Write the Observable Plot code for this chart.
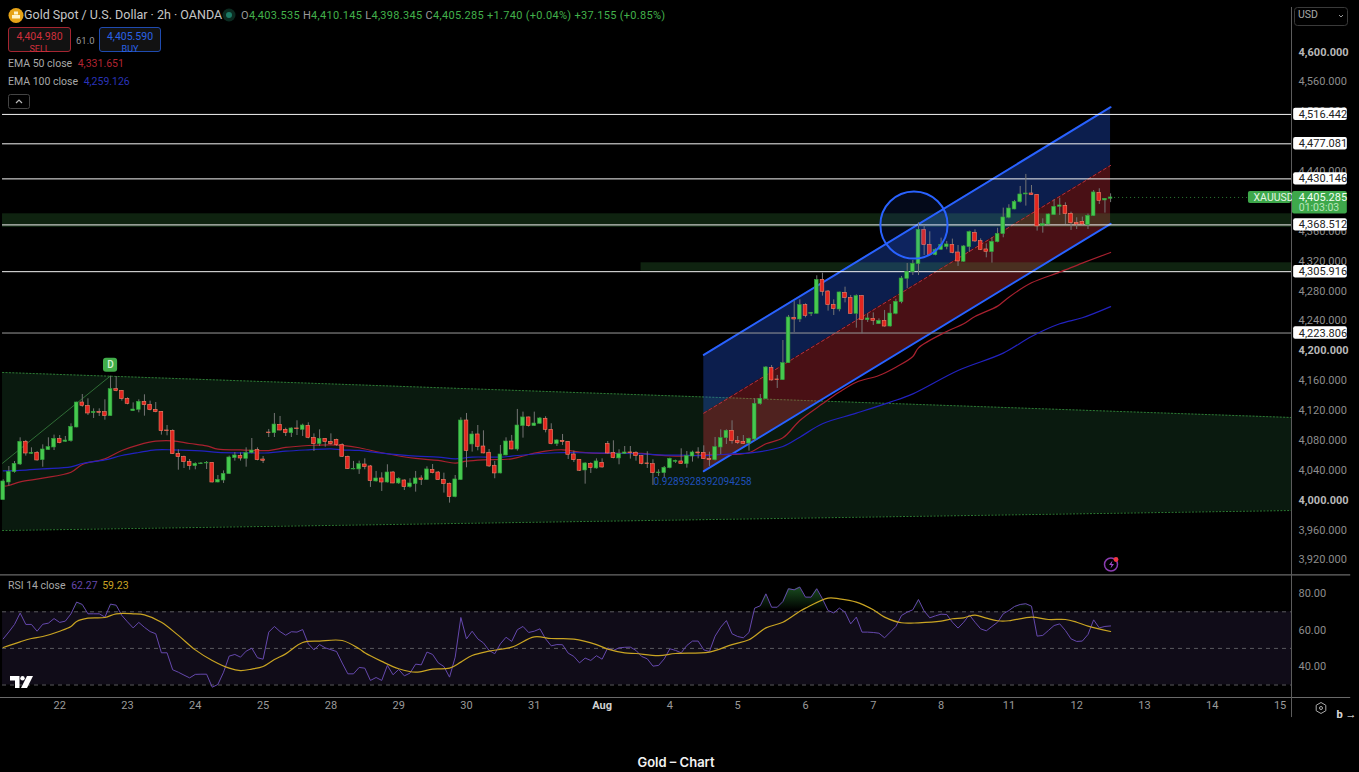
<!DOCTYPE html>
<html><head><meta charset="utf-8">
<script src="https://cdn.jsdelivr.net/npm/d3@7"></script>
<script src="https://cdn.jsdelivr.net/npm/@observablehq/plot@0.6"></script>
<style>
html,body{margin:0;padding:0;background:#000;overflow:hidden}
#wrap{position:relative;width:1359px;height:772px;background:#000;font-family:Roboto,sans-serif}
#wrap svg{display:block}
.o{position:absolute;white-space:pre;line-height:1}
#cap{position:absolute;left:0;top:754px;width:1352px;text-align:center;color:#f2f2f2;font:600 13px Inter,Roboto,sans-serif;line-height:16px}
.box{position:absolute;box-sizing:border-box;border-radius:3px;background:#121212;text-align:center}
</style></head><body>
<div id="wrap"></div>
<script>
const opens=[4000.1,4023.7,4037.6,4047.8,4078.2,4062.1,4063.4,4053.6,4067.0,4070.6,
4082.2,4078.2,4079.0,4097.3,4130.8,4126.3,4116.5,4118.3,4117.9,4112.5,
4148.6,4146.4,4135.7,4119.2,4121.0,4131.7,4127.7,4121.0,4118.3,4093.3,
4092.9,4062.1,4058.1,4051.4,4045.6,4048.2,4049.2,4050.0,4023.7,4026.4,
4034.9,4056.3,4059.4,4055.4,4063.0,4067.0,4054.5,4090.6,4089.7,4100.9,
4094.2,4089.7,4096.0,4094.2,4099.6,4083.5,4075.0,4082.2,4078.2,4080.8,
4073.7,4058.1,4041.2,4041.2,4047.8,4045.2,4025.1,4029.1,4023.7,4037.1,
4022.4,4026.4,4017.5,4021.5,4029.1,4026.9,4040.7,4037.1,4027.3,4022.0,
4004.1,4026.9,4106.7,4074.6,4088.0,4071.9,4063.5,4046.1,4035.8,4059.9,
4078.6,4067.9,4099.2,4110.8,4099.2,4102.3,4109.0,4094.2,4075.1,4079.5,
4078.2,4061.2,4054.1,4039.8,4048.7,4042.5,4050.1,4075.1,4063.0,4055.9,
4062.1,4063.9,4063.5,4059.0,4049.2,4048.3,4036.2,4036.2,4042.9,4051.4,
4051.9,4048.3,4058.5,4063.9,4063.4,4055.4,4053.6,4070.6,4083.1,4092.9,
4079.5,4078.2,4075.9,4081.3,4128.6,4135.3,4177.2,4161.6,4160.7,4183.5,
4244.2,4241.9,4261.1,4249.5,4249.5,4295.0,4279.4,4261.6,4255.3,4277.6,
4270.9,4249.5,4273.2,4241.0,4242.8,4235.7,4240.1,4232.5,4249.5,4265.1,
4296.4,4305.3,4316.0,4361.5,4341.9,4328.1,4335.2,4338.8,4341.9,4331.6,
4319.2,4338.8,4358.0,4346.8,4335.7,4332.1,4345.5,4356.2,4378.1,4389.2,
4399.0,4409.3,4410.6,4408.8,4366.9,4369.1,4381.6,4392.8,4394.1,4383.4,
4371.4,4372.7,4368.2,4380.3,4411.5,4401.3,4403.535];
const closes=[4025.1,4038.0,4048.7,4078.2,4062.5,4063.4,4053.2,4067.9,4071.0,4082.2,
4076.4,4079.9,4098.2,4130.8,4126.3,4116.1,4118.3,4117.0,4112.5,4148.6,
4146.0,4135.3,4129.0,4121.4,4131.7,4127.2,4120.5,4117.9,4092.4,4092.4,
4061.6,4057.6,4050.9,4045.6,4048.7,4049.2,4050.0,4023.7,4027.3,4035.3,
4057.2,4059.9,4055.8,4063.0,4066.5,4053.6,4052.7,4089.7,4101.3,4093.3,
4089.7,4096.0,4095.1,4100.0,4083.5,4075.0,4082.2,4077.7,4075.0,4073.7,
4058.1,4041.6,4042.0,4048.3,4044.3,4025.5,4029.1,4023.7,4037.1,4022.4,
4028.7,4017.5,4022.4,4029.1,4026.9,4041.2,4036.2,4026.9,4021.5,4004.1,
4027.8,4106.7,4065.7,4088.0,4071.5,4062.6,4045.2,4035.8,4061.2,4078.6,
4067.9,4100.0,4110.8,4099.2,4102.7,4109.4,4094.2,4075.1,4080.0,4077.7,
4060.8,4053.6,4039.4,4049.2,4042.9,4051.9,4043.8,4062.6,4056.3,4062.1,
4063.9,4063.0,4059.0,4048.7,4048.3,4036.2,4037.1,4043.4,4055.4,4052.8,
4048.7,4059.0,4063.9,4062.6,4055.0,4053.6,4071.0,4083.1,4092.9,4079.1,
4076.4,4075.5,4082.2,4129.0,4135.7,4177.7,4160.3,4160.7,4183.5,4244.6,
4241.9,4261.1,4246.8,4250.8,4295.0,4279.0,4261.1,4255.8,4278.1,4270.5,
4249.5,4273.2,4241.5,4243.3,4240.1,4240.1,4232.5,4249.9,4265.6,4296.8,
4305.8,4316.5,4362.0,4341.5,4328.1,4335.2,4341.9,4342.4,4331.2,4319.6,
4339.7,4358.9,4346.4,4335.2,4332.5,4345.9,4356.6,4378.5,4390.5,4399.5,
4409.3,4410.6,4408.4,4366.5,4369.6,4382.5,4392.8,4394.6,4383.0,4370.9,
4369.1,4369.1,4380.7,4412.0,4400.8,4403.5,4405.285];
const highs=[4027.3,4045.1,4051.8,4083.5,4080.0,4070.1,4065.2,4074.1,4083.5,4087.1,
4086.6,4085.3,4102.2,4131.2,4141.5,4135.7,4122.3,4122.3,4134.4,4165.6,
4165.6,4146.9,4137.0,4130.3,4134.4,4141.1,4132.6,4130.8,4118.7,4100.0,
4094.2,4067.4,4059.0,4054.5,4050.0,4050.5,4051.8,4050.5,4033.1,4039.3,
4059.0,4063.9,4063.4,4070.1,4082.6,4070.1,4058.5,4094.7,4116.1,4112.1,
4096.4,4096.9,4106.3,4101.8,4103.6,4088.8,4094.2,4082.6,4088.8,4081.7,
4075.5,4059.0,4051.9,4052.3,4055.4,4046.5,4038.5,4036.7,4047.4,4038.5,
4030.0,4027.3,4028.7,4038.5,4032.7,4044.7,4047.8,4038.5,4036.2,4022.9,
4033.1,4110.3,4116.1,4092.0,4100.0,4092.9,4067.9,4051.9,4073.3,4083.5,
4086.7,4121.5,4117.9,4111.2,4117.9,4110.8,4111.7,4102.3,4080.9,4088.0,
4078.6,4065.7,4054.5,4050.1,4050.1,4055.4,4055.4,4078.6,4079.5,4067.5,
4071.9,4071.9,4064.8,4059.4,4064.8,4054.1,4040.7,4045.2,4056.3,4053.6,
4068.8,4065.2,4065.7,4070.2,4072.8,4064.3,4084.0,4094.2,4094.2,4106.3,
4085.3,4086.6,4083.1,4135.7,4141.5,4179.0,4180.3,4167.0,4213.8,4247.3,
4266.0,4268.2,4262.9,4251.3,4300.4,4303.9,4280.7,4268.2,4278.5,4285.2,
4274.1,4274.9,4274.1,4249.5,4250.8,4242.8,4254.0,4262.0,4269.1,4299.5,
4316.9,4321.0,4371.4,4367.8,4359.3,4336.6,4350.8,4346.4,4349.5,4341.0,
4341.0,4360.2,4362.0,4349.9,4343.2,4351.3,4364.0,4391.0,4395.5,4401.3,
4420.0,4436.1,4421.3,4409.3,4376.7,4383.0,4402.1,4404.4,4398.1,4385.6,
4378.1,4379.0,4383.0,4414.6,4416.9,4403.9,4410.145];
const lows=[4000.1,4018.8,4036.2,4046.5,4059.0,4061.2,4052.3,4044.2,4066.5,4066.5,
4075.5,4077.3,4077.7,4096.9,4124.5,4113.4,4109.4,4112.1,4107.1,4112.5,
4145.1,4132.6,4127.7,4118.7,4117.0,4112.5,4119.6,4117.0,4087.1,4086.2,
4061.2,4040.2,4042.4,4040.2,4040.7,4047.8,4041.1,4023.2,4023.2,4022.4,
4034.4,4052.3,4052.3,4044.2,4062.1,4052.7,4049.1,4083.9,4083.9,4092.9,
4085.3,4083.9,4086.6,4085.3,4082.2,4065.2,4071.9,4071.0,4073.7,4071.9,
4057.2,4041.1,4040.7,4034.5,4040.7,4017.1,4024.2,4011.7,4022.9,4022.0,
4021.1,4013.0,4016.2,4010.8,4019.7,4026.4,4035.3,4026.4,4009.5,3996.1,
4003.2,4026.4,4043.4,4064.4,4066.1,4062.1,4043.8,4028.7,4035.3,4059.4,
4067.5,4065.7,4083.1,4097.8,4098.7,4101.4,4090.2,4074.2,4071.9,4073.3,
4054.5,4050.5,4038.5,4021.5,4035.8,4041.6,4042.9,4061.7,4055.4,4047.4,
4061.2,4055.0,4052.3,4047.4,4042.5,4019.7,4031.8,4029.1,4042.0,4049.2,
4047.8,4042.9,4051.0,4055.4,4054.5,4045.2,4052.7,4060.8,4074.6,4075.1,
4074.6,4074.6,4065.7,4078.6,4127.2,4134.8,4159.4,4149.6,4160.3,4183.0,
4224.5,4237.9,4244.2,4245.9,4249.1,4273.2,4253.1,4247.3,4252.2,4264.2,
4249.1,4230.3,4222.7,4237.9,4233.9,4235.2,4231.7,4231.7,4248.2,4262.9,
4283.0,4300.9,4300.9,4327.6,4327.2,4327.2,4334.3,4335.2,4329.9,4312.9,
4318.3,4331.6,4345.0,4334.3,4324.5,4317.4,4344.6,4351.3,4376.7,4388.8,
4397.7,4393.7,4408.0,4360.2,4357.5,4368.7,4381.2,4381.2,4369.1,4361.1,
4362.4,4368.2,4362.4,4379.8,4395.9,4384.3,4398.345];

const ema50Bars=[0,1,3,7,12,14,18,21,24,27,30,33,36,38,42,47,50,54,58,60,63,67,73,77,80,82,85,90,93,96,99,102,107,110,113,116,120,125,129,132,135,138,141,145,148,151,155,158,161,162,167,170,172,176,178,182,187,191,196];
const ema50Values=[4018.8,4019.7,4024.6,4029.5,4037.5,4047.8,4055.4,4066.5,4074.1,4079.0,4079.5,4075.9,4072.8,4068.3,4067.4,4066.5,4070.6,4073.2,4074.1,4073.3,4070.2,4063.5,4055.9,4053.2,4049.6,4052.3,4054.1,4055.4,4061.2,4065.7,4067.5,4064.4,4062.6,4063.0,4062.6,4060.3,4059.0,4061.2,4061.2,4063.5,4075.5,4083.5,4106.7,4129.0,4144.7,4158.0,4167.0,4178.1,4192.4,4204.0,4225.9,4236.2,4246.0,4259.8,4271.8,4291.0,4305.3,4317.4,4331.651];
const ema100Bars=[0,3,7,12,14,18,21,24,27,30,35,38,42,47,50,54,58,60,63,67,73,77,80,83,88,90,93,98,102,107,113,116,120,125,129,132,138,141,145,151,157,161,169,177,182,187,191,196];
const ema100Values=[4039.3,4039.8,4042.0,4044.7,4049.1,4054.0,4059.8,4063.9,4067.4,4067.4,4066.1,4063.9,4063.4,4063.4,4065.6,4067.4,4068.8,4067.5,4066.6,4063.0,4059.0,4057.7,4055.4,4057.7,4057.7,4059.0,4061.2,4063.5,4063.5,4063.0,4062.1,4060.8,4060.3,4059.9,4062.1,4063.0,4071.9,4084.4,4102.3,4116.5,4131.3,4142.4,4173.7,4196.9,4219.2,4236.2,4244.2,4259.126];

const rsiValues=[55.2,59,63.1,69.3,63.1,63.1,59.4,63.2,63.8,66.3,
64.2,64.9,68.9,75.3,74.0,68.9,68.9,68.9,67.1,74.2,
73.6,68.0,64.5,61.2,64.2,61.5,59.2,58.0,47.6,47.6,
38.3,37,35.4,33.9,35.8,35.9,35.9,28.8,30.3,37.0,
45.8,46.7,45.2,48.5,50.1,44.9,44.1,58.9,62.0,59.2,
57.2,59.1,58.9,60.3,52.5,49.2,52.1,50.3,49.3,48.3,
42,36.1,36.1,39.6,39.2,32.5,34.1,32.5,40.7,35.6,
38.5,35.0,36.5,41.4,41.0,48.0,46.7,42.1,40.1,34.3,
45.2,66.9,55.2,59.4,55.2,53.0,48.9,47.1,52.5,56.1,
53.8,60.2,62.0,58.7,59.4,60.7,55.2,51.4,52.1,52.0,
47.4,45.6,42.1,44.7,43.4,46.0,44.1,50.3,48.9,50.3,
50.6,50.7,48.9,45.6,44.3,40.3,40.7,44.3,49.8,48.9,
47.6,51.6,54.0,54.0,49.2,48.3,56.7,61.6,65.2,58.0,
56.5,55.8,58.7,72.0,73.3,79.8,72.5,72.5,75.6,82.6,
82.0,83.5,78.0,78.0,82.6,77.1,70.7,69.4,72.0,69.8,
63.4,67.1,58.9,58.9,58.7,58.3,55.8,58.9,62.0,68.0,
69.8,71.1,76.7,70.4,66.7,67.8,68.7,68.5,64.3,61.1,
64.3,68.3,64.3,60.7,59.6,62.0,64.3,68.9,70.7,72.9,
74.0,74.4,73.1,56.7,57.1,59.8,62.5,63.4,59.8,55.2,
53.8,54.0,57.6,65.6,61.2,62.0,62.27];
const rsiMaBars=[0,3,5,7,10,12,13,15,18,20,23,25,28,31,34,37,40,42,44,46,48,50,53,56,60,63,64,67,70,73,76,79,81,83,86,90,94,97,101,105,107,110,112,116,119,125,129,132,135,138,141,142,146,148,151,154,156,159,162,166,168,170,172,174,176,178,182,185,188,190,192,196];
const rsiMaValues=[50.5,53.6,55.4,56.5,59.4,62.0,64.7,66.5,66.9,68.9,68.9,68.3,64.3,57.1,49.2,43.4,39.2,37.9,38.7,40.1,43.9,47.0,53.2,54.0,54.3,49.8,47.6,42.9,38.9,37.0,38.7,39.2,42.5,46.1,48.5,50.7,56.3,55.4,55.1,52.1,49.6,47.6,47.2,46.1,47.2,48.0,52.1,54.7,61.2,64.3,70.3,72.0,77.5,77.1,75.3,71.1,67.1,64.0,64.0,64.9,66.2,66.7,68.2,66.5,65.1,65.1,67.1,65.8,65.8,64.3,62.2,59.23];

const levelPrices=[4516.442,4477.081,4430.146,4368.512,4305.916,4223.806];
const lastPrice=4405.285;
const priceTicks=[4560,4520,4480,4440,4360,4320,4280,4240,4160,4120,4080,4040,3960,3920];
const boldPriceTicks=[4600,4200,4000];
const rsiTicks=[80,60,40];
const dayBars=[10,22,34,46,58,70,82,94,118,130,142,154,166,178,190,202,214,226];
const dayLabels=["22","23","24","25","28","29","30","31","4","5","6","7","8","11","12","13","14","15"];
const monthBars=[106];
const monthLabels=["Aug"];

const wedge=[{b:-0.12,top:4171,bot:3959.4},{b:228.02,top:4110.7,bot:3986.2}];
const channel=[{b:124,up:4194.6,mid:4116.5,lo:4038.8},{b:196,up:4526.1,mid:4448.1,lo:4370}];
const zones=[{b1:-0.12,b2:228.02,top:4383.4,bot:4365},{b1:112.9,b2:228.02,top:4317.8,bot:4306.6}];
const trendLine=[{b:-0.12,p:4049.5},{b:19,p:4166.5}];
const circleMark=[{b:161.2,p:4368.4}];
const dMark=[{b:19,p:4180.7}];
const fibText=[{b:115.1,p:4025,t:"0.9289328392094258"}];

const candles=opens.map((o,i)=>({i,o,c:closes[i],h:highs[i],l:lows[i]}));
const up=candles.filter(d=>d.c>=d.o), down=candles.filter(d=>d.c<d.o);
const ema50=ema50Bars.map((b,i)=>({b,v:ema50Values[i]}));
const ema100=ema100Bars.map((b,i)=>({b,v:ema100Values[i]}));
const rsi=rsiValues.map((v,b)=>({b,v}));
const rsiMa=rsiMaBars.map((b,i)=>({b,v:rsiMaValues[i]}));

const fmt=d3.format(",.3f"), fmt2=d3.format(".2f");
const xScale={type:"linear",domain:[-0.124,228.02],range:[2,1291],axis:null};
const font="Roboto, sans-serif";
const LIME="#43b84c", BADGE="#3ea84b";

const main=Plot.plot({
  width:1359,height:574,marginTop:0,marginBottom:0,marginLeft:2,marginRight:68,
  style:{background:"#000",fontFamily:font,fontSize:"11px",color:"#8d8d8d"},
  x:xScale,
  y:{type:"linear",domain:[3900.54,4668.94],range:[574,0],axis:null},
  marks:[
    Plot.areaY(wedge,{x:"b",y1:"top",y2:"bot",fill:"#0a1a0f"}),
    Plot.line(wedge,{x:"b",y:"top",stroke:"#2c7a33",strokeDasharray:"1.2,2.2",strokeWidth:1}),
    Plot.line(wedge,{x:"b",y:"bot",stroke:"#2c7a33",strokeDasharray:"1.2,2.2",strokeWidth:1}),
    Plot.axisY(priceTicks,{anchor:"right",tickSize:0,tickPadding:7,tickFormat:fmt,fill:"#8d8d8d",textAnchor:"start",fontSize:11}),
    Plot.axisY(boldPriceTicks,{anchor:"right",tickSize:0,tickPadding:7,tickFormat:fmt,fill:"#b8b8b8",fontWeight:700,textAnchor:"start",fontSize:11}),
    Plot.areaY(channel,{x:"b",y1:"up",y2:"mid",fill:"#2962ff",fillOpacity:0.3}),
    Plot.areaY(channel,{x:"b",y1:"mid",y2:"lo",fill:"#f23645",fillOpacity:0.3}),
    Plot.rect(zones,{x1:"b1",x2:"b2",y1:"top",y2:"bot",fill:"#4caf50",fillOpacity:0.2}),
    Plot.line(channel,{x:"b",y:"mid",stroke:"#b5303e",strokeDasharray:"3,3",strokeWidth:1}),
    Plot.line(channel,{x:"b",y:"up",stroke:"#2962ff",strokeWidth:2}),
    Plot.line(channel,{x:"b",y:"lo",stroke:"#2962ff",strokeWidth:2}),
    Plot.line(trendLine,{x:"b",y:"p",stroke:"#2f6d35",strokeWidth:1}),
    Plot.ruleY(levelPrices.slice(0,5),{x1:-0.12,x2:228.02,stroke:"#f4f4f4",strokeWidth:1}),
    Plot.ruleY(levelPrices.slice(5),{x1:-0.12,x2:228.02,stroke:"#9a9a9a",strokeWidth:1}),
    Plot.ruleY([lastPrice],{x1:196,x2:228.02,stroke:"#2c7a33",strokeDasharray:"1,3",strokeWidth:1}),
    Plot.line(ema50,{x:"b",y:"v",stroke:"#a8212f",strokeWidth:1.2,curve:"catmull-rom"}),
    Plot.line(ema100,{x:"b",y:"v",stroke:"#2222c0",strokeWidth:1.2,curve:"catmull-rom"}),
    Plot.ruleX(candles,{x:"i",y1:"l",y2:"h",stroke:"#747474",strokeWidth:1}),
    Plot.rect(up,{x1:d=>d.i-0.33,x2:d=>d.i+0.33,y1:"o",y2:"c",fill:"#46c94f",stroke:"#2f9d3a",strokeWidth:0.6}),
    Plot.rect(down,{x1:d=>d.i-0.33,x2:d=>d.i+0.33,y1:"o",y2:"c",fill:"#e2261f",stroke:"#f0826a",strokeWidth:0.6}),
    Plot.dot(circleMark,{x:"b",y:"p",r:33.6,stroke:"#2962ff",strokeWidth:2,fill:"#2962ff",fillOpacity:0.1}),
    Plot.rect(dMark,{x1:d=>d.b-1.25,x2:d=>d.b+1.25,y1:d=>d.p-9.4,y2:d=>d.p+9.4,fill:"#41ad4a",rx:3}),
    Plot.text(dMark,{x:"b",y:"p",text:()=>"D",fill:"#d5f2d5",fontSize:10,fontWeight:500}),
    Plot.text(fibText,{x:"b",y:"p",text:"t",textAnchor:"start",fill:"#1f4fb8",fontSize:10}),
    Plot.ruleX([228.02],{y1:3900.54,y2:4659.6,stroke:"#5c5c5c",strokeWidth:1}),
    Plot.rect(levelPrices,{x1:()=>228.4,x2:()=>237.9,y1:d=>d-8.3,y2:d=>d+8.3,fill:"#fff",rx:2}),
    Plot.text(levelPrices,{x:()=>229.3,y:d=>d,text:d=>fmt(d),textAnchor:"start",fill:"#222",fontSize:11}),
    Plot.rect([lastPrice],{x1:()=>220.4,x2:()=>228,y1:d=>d-8,y2:d=>d+8,fill:BADGE,rx:2}),
    Plot.text([lastPrice],{x:()=>221.3,y:d=>d,text:()=>"XAUUSD",textAnchor:"start",fill:"#e4f5e4",fontSize:10.5}),
    Plot.rect([lastPrice],{x1:()=>228.2,x2:()=>237.9,y1:d=>d-22.2,y2:d=>d+8,fill:BADGE,rx:2}),
    Plot.text([lastPrice],{x:()=>229.3,y:d=>d,text:d=>fmt(d),textAnchor:"start",fill:"#f2fff2",fontSize:11}),
    Plot.text([lastPrice],{x:()=>229.3,y:d=>d-13,text:()=>"01:03:03",textAnchor:"start",fill:"#b8e6bb",fontSize:10.5})
  ]
});

const rsiDefs=()=>{
  const d=d3.create("svg:defs");
  const g=d.append("linearGradient").attr("id","ob").attr("gradientUnits","userSpaceOnUse").attr("x1",0).attr("x2",0).attr("y1",10).attr("y2",36);
  g.append("stop").attr("offset",0).attr("stop-color","#2f8f3a").attr("stop-opacity",0.6);
  g.append("stop").attr("offset",1).attr("stop-color","#2f8f3a").attr("stop-opacity",0);
  return d.node();
};
const lower=Plot.plot({
  width:1359,height:146,marginTop:0,marginBottom:23,marginLeft:2,marginRight:68,
  style:{background:"#000",fontFamily:font,fontSize:"11px",color:"#8d8d8d"},
  x:xScale,
  y:{type:"linear",domain:[23.17,90.38],range:[123,0],axis:null},
  marks:[
    rsiDefs,
    Plot.rect([{a:30,b:70}],{x1:()=>-0.12,x2:()=>228.02,y1:"a",y2:"b",fill:"#100c18"}),
    Plot.ruleY([30,50,70],{x1:-0.12,x2:228.02,stroke:"#5a5a5f",strokeDasharray:"4,4",strokeWidth:1}),
    Plot.areaY(rsi,{x:"b",y1:()=>70,y2:d=>Math.max(d.v,70),fill:"url(#ob)"}),
    Plot.line(rsi,{x:"b",y:"v",stroke:"#6548ad",strokeWidth:1}),
    Plot.line(rsiMa,{x:"b",y:"v",stroke:"#c9a422",strokeWidth:1.2,curve:"catmull-rom"}),
    Plot.ruleY([90.2],{x1:-0.48,x2:238.5,stroke:"#6a6a6a",strokeWidth:1.2}),
    Plot.ruleY([23.17],{x1:-0.48,x2:238.5,stroke:"#6a6a6a",strokeWidth:1.2}),
    Plot.ruleX([228.02],{y1:90.38,y2:12.2,stroke:"#5c5c5c",strokeWidth:1}),
    Plot.axisY(rsiTicks,{anchor:"right",tickSize:0,tickPadding:7,tickFormat:fmt2,fill:"#8d8d8d",textAnchor:"start",fontSize:11}),
    Plot.axisX(dayBars,{anchor:"bottom",tickSize:0,tickPadding:4,tickFormat:d=>dayLabels[dayBars.indexOf(d)],fill:"#9a9a9a",fontSize:11}),
    Plot.axisX(monthBars,{anchor:"bottom",tickSize:0,tickPadding:4,tickFormat:d=>monthLabels[monthBars.indexOf(d)],fill:"#d0d0d0",fontWeight:700,fontSize:11})
  ]
});

const wrap=document.getElementById("wrap");
wrap.appendChild(main); wrap.appendChild(lower);
const overlay=`
<svg style="position:absolute;left:0;top:0;pointer-events:none" width="1359" height="772">
  <circle cx="16" cy="15.5" r="7.5" fill="#e6a317"/><rect x="12" y="15" width="8" height="3.5" fill="#fff3c8"/><rect x="14" y="11.5" width="4" height="3" fill="#fff3c8"/>
  <circle cx="229" cy="15" r="6.5" fill="#0b2a20"/><circle cx="229" cy="15" r="3" fill="#1c7a64"/>
  <rect x="8.5" y="94.5" width="21" height="14" rx="2" fill="#000" stroke="#444"/>
  <path d="M16 103l3-3 3 3" fill="none" stroke="#bbb" stroke-width="1.2"/>
  <path d="M10 676h9.5v12h-4.5v-7.5h-5z" fill="#fff"/><circle cx="22.5" cy="678.2" r="2.2" fill="#fff"/><path d="M27 676h6l-6 12h-6z" fill="#fff"/>
  <circle cx="1111" cy="564.5" r="6.5" fill="#000" stroke="#8a3cb0" stroke-width="1.5"/><path d="M1112.5 560.5l-3.5 4.5h2.5l-1 3.5 3.5-4.5h-2.5z" fill="#a04ac8"/><circle cx="1116" cy="559.5" r="2.4" fill="#f23645"/>
  <path d="M1321 702.5l4.8 2.75v5.5l-4.8 2.75-4.8-2.75v-5.5z" fill="none" stroke="#aaa"/><circle cx="1321" cy="708" r="1.5" fill="none" stroke="#aaa"/>
  <rect x="1294.5" y="7.5" width="53" height="18" rx="3" fill="#000" stroke="#3a3a3a"/>
  <path d="M1339 15l2 2 2-2" fill="none" stroke="#999"/>
</svg>
<div class="o" style="left:24px;top:9px;color:#c6c6c6;font-size:12.5px">Gold Spot / U.S. Dollar · 2h · OANDA</div>
<div class="o" style="left:241px;top:10px;color:#42b04b;font-size:11px;letter-spacing:.3px"><span style="color:#999">O</span>4,403.535 <span style="color:#999">H</span>4,410.145 <span style="color:#999">L</span>4,398.345 <span style="color:#999">C</span>4,405.285 +1.740 (+0.04%) +37.155 (+0.85%)</div>
<div class="box" style="left:8px;top:27px;width:63px;height:25px;border:1px solid #a52531;color:#cf2f3c;font-size:10.5px;padding-top:2px">4,404.980<div style="font-size:9px;margin-top:1px">SELL</div></div>
<div class="o" style="left:76px;top:36px;color:#999;font-size:9.5px">61.0</div>
<div class="box" style="left:99px;top:27px;width:62px;height:25px;border:1px solid #1f4bb0;color:#2a62e6;font-size:10.5px;padding-top:2px">4,405.590<div style="font-size:9px;margin-top:1px">BUY</div></div>
<div class="o" style="left:8px;top:59px;color:#a8a8a8;font-size:10.5px">EMA 50 close <span style="color:#b22532;margin-left:3px">4,331.651</span></div>
<div class="o" style="left:8px;top:77px;color:#a8a8a8;font-size:10.5px">EMA 100 close <span style="color:#2a33b8;margin-left:3px">4,259.126</span></div>
<div class="o" style="left:8px;top:581px;color:#a8a8a8;font-size:10.5px">RSI 14 close <span style="color:#6548ad;margin-left:3px">62.27</span> <span style="color:#c9a422;margin-left:2px">59.23</span></div>
<div class="o" style="left:1298px;top:10px;color:#a8a8a8;font-size:10.5px">USD</div>
<div id="cap">Gold – Chart</div>`;
wrap.insertAdjacentHTML("beforeend",overlay);
</script>
</body></html>
